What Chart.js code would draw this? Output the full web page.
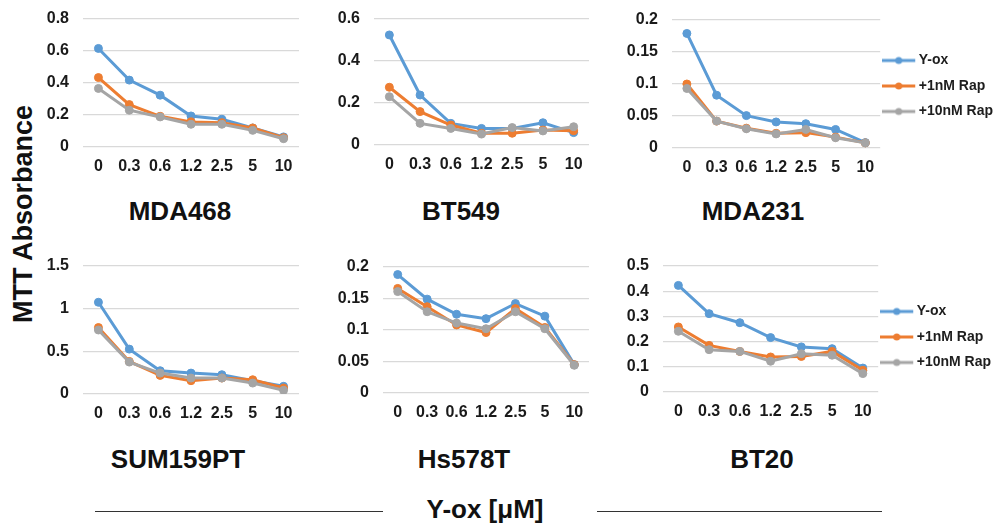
<!DOCTYPE html>
<html>
<head>
<meta charset="utf-8">
<script src="https://cdn.jsdelivr.net/npm/chart.js@4.4.1/dist/chart.umd.min.js"></script>
<style>
  body { margin: 0; background: #fff; width: 999px; height: 527px; overflow: hidden; position: relative;
         font-family: "Liberation Sans", Arial, sans-serif; }
  canvas { position: absolute; }
  .lbl { position: absolute; font-weight: bold; color: #111; white-space: nowrap; line-height: 1;
         font-size: 26px; transform: translate(-50%, -50%); }
  .rule { position: absolute; height: 0; border-top: 1.5px solid #333; }
</style>
</head>
<body>
<div class="lbl" style="left:23px; top:214px; font-size:27px; transform:translate(-50%,-50%) rotate(-90deg);">MTT Absorbance</div>

<div class="lbl" style="left:180px; top:211px;">MDA468</div>
<div class="lbl" style="left:461px; top:211px;">BT549</div>
<div class="lbl" style="left:753px; top:211px;">MDA231</div>
<div class="lbl" style="left:178px; top:459px;">SUM159PT</div>
<div class="lbl" style="left:464px; top:459px;">Hs578T</div>
<div class="lbl" style="left:762px; top:459px;">BT20</div>

<div class="lbl" style="left:485px; top:509px;">Y-ox [μM]</div>
<div class="rule" style="left:95px; top:511px; width:288px;"></div>
<div class="rule" style="left:597px; top:511px; width:285px;"></div>

<script>
const doses = ['0', '0.3', '0.6', '1.2', '2.5', '5', '10'];
const seriesLabels = ['Y-ox', '+1nM Rap', '+10nM Rap'];

const mda468Yox   = [0.616, 0.418, 0.324, 0.194, 0.173, 0.119, 0.063];
const mda468Rap1  = [0.434, 0.265, 0.192, 0.157, 0.152, 0.119, 0.058];
const mda468Rap10 = [0.366, 0.230, 0.188, 0.142, 0.142, 0.104, 0.052];

const bt549Yox   = [0.524, 0.238, 0.103, 0.079, 0.079, 0.106, 0.059];
const bt549Rap1  = [0.275, 0.159, 0.095, 0.056, 0.056, 0.071, 0.068];
const bt549Rap10 = [0.230, 0.103, 0.079, 0.052, 0.083, 0.067, 0.087];

const mda231Yox   = [0.179, 0.0825, 0.0506, 0.0407, 0.038, 0.029, 0.0084];
const mda231Rap1  = [0.100, 0.042, 0.031, 0.023, 0.0240, 0.017, 0.008];
const mda231Rap10 = [0.093, 0.042, 0.030, 0.022, 0.0290, 0.016, 0.008];

const sum159Yox   = [1.075, 0.526, 0.273, 0.245, 0.226, 0.156, 0.090];
const sum159Rap1  = [0.779, 0.382, 0.218, 0.156, 0.187, 0.167, 0.070];
const sum159Rap10 = [0.750, 0.374, 0.245, 0.187, 0.187, 0.128, 0.043];

const hs578Yox   = [0.188, 0.149, 0.125, 0.118, 0.142, 0.122, 0.045];
const hs578Rap1  = [0.166, 0.137, 0.108, 0.096, 0.134, 0.104, 0.045];
const hs578Rap10 = [0.161, 0.129, 0.111, 0.102, 0.129, 0.102, 0.044];

const bt20Yox   = [0.423, 0.311, 0.275, 0.216, 0.179, 0.172, 0.095];
const bt20Rap1  = [0.258, 0.185, 0.161, 0.139, 0.141, 0.161, 0.086];
const bt20Rap10 = [0.241, 0.168, 0.161, 0.122, 0.152, 0.146, 0.073];

// y axis ranges, one per panel
const yMaxes = [0.8, 0.6, 0.2, 1.5, 0.2, 0.5];
const ySteps = [0.2, 0.2, 0.05, 0.5, 0.05, 0.1];

const colors = ['#5B9BD5', '#ED7D31', '#A5A5A5'];
const fontFamily = '"Liberation Sans", Arial, sans-serif';
Chart.defaults.font.family = fontFamily;

// excel-like legend key: short line with a dot in the middle
function legendIcon(color) {
    const c = document.createElement('canvas');
    c.width = 39; c.height = 10;
    const g = c.getContext('2d');
    g.strokeStyle = color; g.lineWidth = 3;
    g.beginPath(); g.moveTo(0, 5); g.lineTo(33, 5); g.stroke();
    g.fillStyle = color;
    g.beginPath(); g.arc(16.5, 5, 3.5, 0, Math.PI * 2); g.fill();
    return c;
}
const icons = colors.map(legendIcon);

// yw = fixed y axis width; legend panels get a wide canvas so the legend isn't capped
const panels = [
    { series: [mda468Yox, mda468Rap1, mda468Rap10], left: 33,  top: -6,  width: 271, height: 193, yw: 50 },
    { series: [bt549Yox, bt549Rap1, bt549Rap10],    left: 324, top: -6,  width: 270, height: 191, yw: 50 },
    { series: [mda231Yox, mda231Rap1, mda231Rap10], left: 503, top: -5,  width: 500, height: 193, yw: 169, legend: true, shift: 4 },
    { series: [sum159Yox, sum159Rap1, sum159Rap10], left: 33,  top: 241, width: 271, height: 193, yw: 50 },
    { series: [hs578Yox, hs578Rap1, hs578Rap10],    left: 333, top: 242, width: 261, height: 191, yw: 50 },
    { series: [bt20Yox, bt20Rap1, bt20Rap10],       left: 501, top: 241, width: 500, height: 191, yw: 162, legend: true, shift: 16 }
];

panels.forEach((p, k) => {
    const cv = document.createElement('canvas');
    cv.width = p.width; cv.height = p.height;
    cv.style.left = p.left + 'px'; cv.style.top = p.top + 'px';
    document.body.appendChild(cv);

    const tickFont = { size: 16, weight: 'bold', family: fontFamily };

    new Chart(cv.getContext('2d'), {
        type: 'line',
        data: {
            labels: doses,
            datasets: p.series.map((vals, i) => ({
                label: seriesLabels[i],
                data: vals,
                borderColor: colors[i],
                backgroundColor: colors[i],
                pointBackgroundColor: colors[i],
                pointBorderColor: colors[i],
                borderWidth: 3,
                pointRadius: 4,
                pointBorderWidth: 1,
                tension: 0,
                order: 3 - i
            }))
        },
        options: {
            responsive: false,
            animation: false,
            layout: { padding: { top: 25, right: p.legend ? 0 : 4, left: 0, bottom: 0 } },
            plugins: {
                tooltip: { enabled: false },
                legend: p.legend ? {
                    position: 'right',
                    fullSize: false,
                    title: { display: true, text: '', font: { size: p.shift, lineHeight: 1 }, padding: 0 },
                    labels: {
                        usePointStyle: true,
                        pointStyleWidth: 20,
                        padding: 11.5,
                        color: '#1e1e1e',
                        font: { size: 14, weight: 'bold' },
                        generateLabels: (chart) => chart.data.datasets.map((ds, i) => ({
                            text: ds.label,
                            pointStyle: icons[i],
                            fillStyle: 'transparent',
                            strokeStyle: 'transparent',
                            lineWidth: 0,
                            fontColor: '#1e1e1e',
                            hidden: false,
                            datasetIndex: i
                        }))
                    }
                } : { display: false }
            },
            scales: {
                x: {
                    offset: true,
                    grid: { display: false, drawTicks: false },
                    border: { display: false },
                    ticks: { color: '#1a1a1a', font: tickFont, padding: 10, maxRotation: 0, minRotation: 0, autoSkip: false },
                    afterFit: (s) => { s.height = 40; }
                },
                y: {
                    min: 0,
                    max: yMaxes[k],
                    grid: { color: '#d9d9d9', lineWidth: 1.2, drawTicks: false },
                    border: { display: false },
                    ticks: {
                        stepSize: ySteps[k],
                        padding: 14,
                        color: '#1a1a1a',
                        font: tickFont,
                        callback: (v) => String(Math.round(v * 1000) / 1000)
                    },
                    afterFit: (s) => { s.width = p.yw; }
                }
            }
        }
    });
});
</script>
</body>
</html>
